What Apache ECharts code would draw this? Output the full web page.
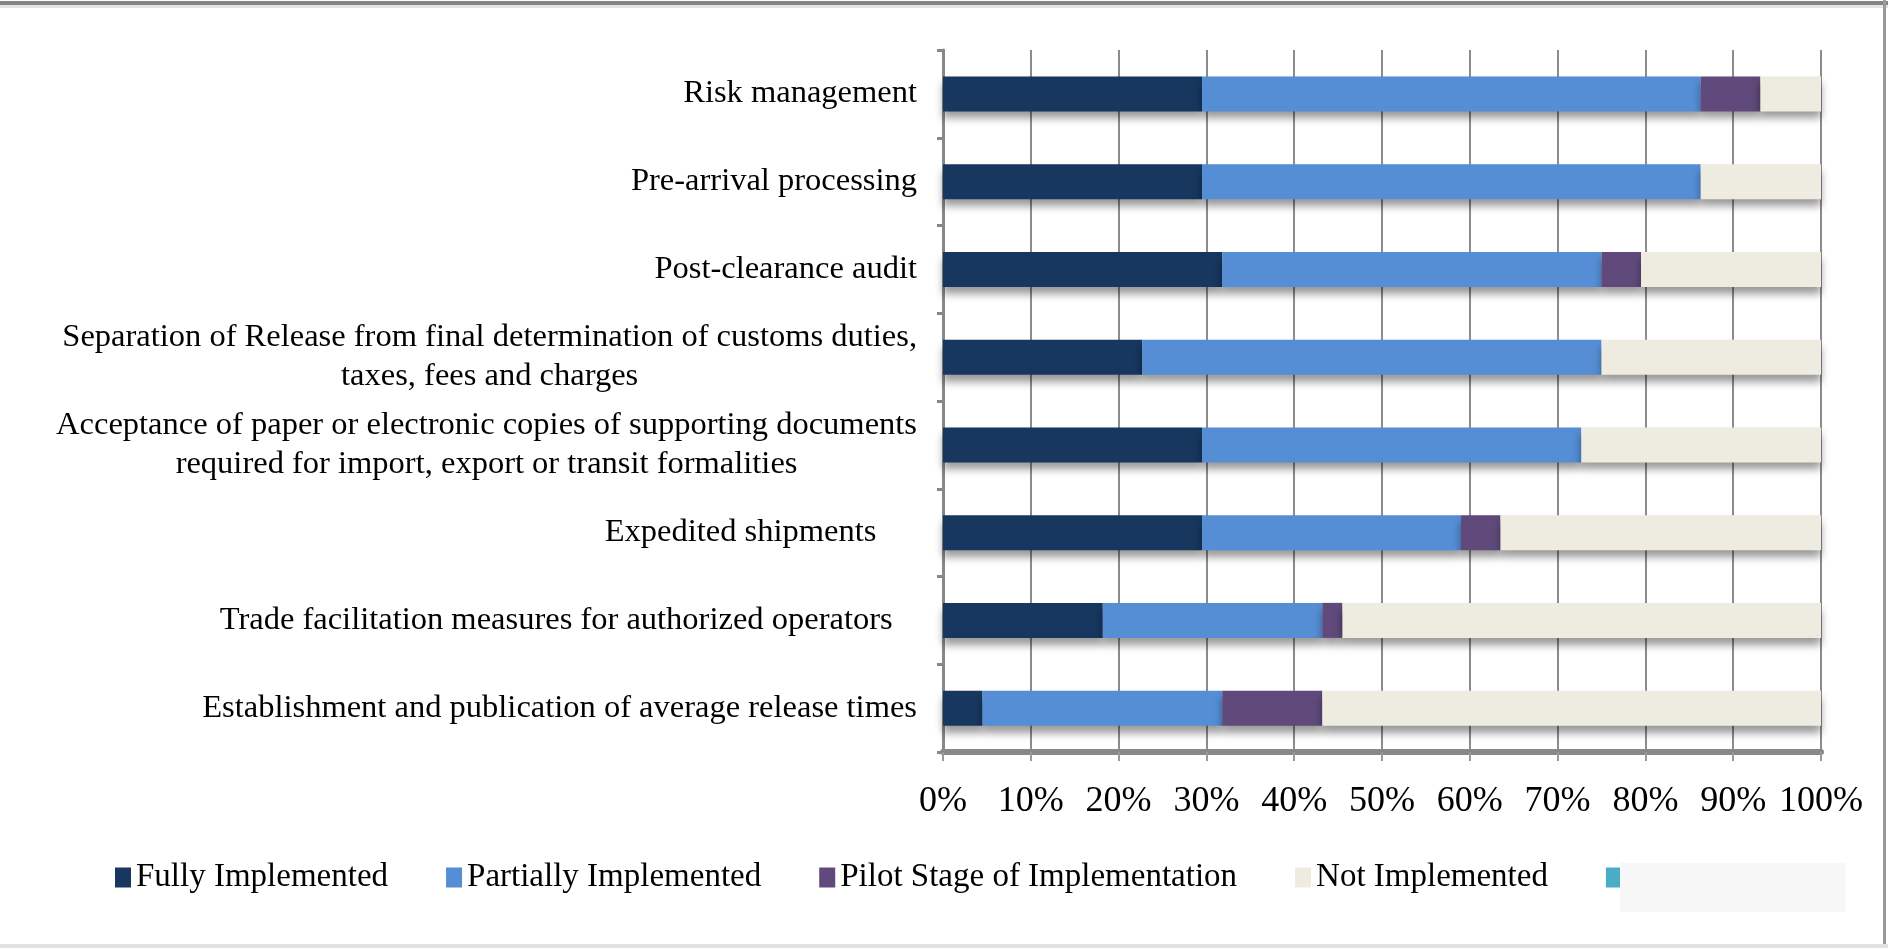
<!DOCTYPE html>
<html>
<head>
<meta charset="utf-8">
<script src="https://cdn.jsdelivr.net/npm/echarts@6/dist/echarts.min.js"></script>
<style>
  html, body { margin: 0; padding: 0; background: #fff; }
  #chart { width: 1888px; height: 948px; }
</style>
</head>
<body>
<div id="chart"></div>
<script>
// categories, top to bottom (trailing spaces are in the original labels)
var categories = [
  "Risk management",
  "Pre-arrival processing",
  "Post-clearance audit",
  "Separation of Release from final determination of customs duties,\ntaxes, fees and charges",
  "Acceptance of paper or electronic copies of supporting documents\nrequired for import, export or transit formalities",
  "Expedited shipments     ",
  "Trade facilitation measures for authorized operators   ",
  "Establishment and publication of average release times"
];
// percent of respondents
var fully     = [29.5, 29.5, 31.8, 22.7, 29.5, 29.5, 18.2,  4.5];
var partially = [56.8, 56.8, 43.2, 52.3, 43.2, 29.5, 25.0, 27.3];
var pilot     = [ 6.8,  0.0,  4.5,  0.0,  0.0,  4.5,  2.3, 11.4];
var notImpl   = [ 6.9, 13.7, 20.5, 25.0, 27.3, 36.5, 54.5, 56.8];
var dontKnow  = [ 0,    0,    0,    0,    0,    0,    0,    0  ];
var xTicks = [0, 10, 20, 30, 40, 50, 60, 70, 80, 90, 100];

var font = "Liberation Serif";
var myChart = echarts.init(document.getElementById("chart"));

function bar(name, data, color) {
  return {
    name: name,
    type: "bar",
    stack: "all",
    barWidth: 35,
    data: data,
    itemStyle: {
      color: color,
      shadowColor: "rgba(0,0,0,0.4)",
      shadowBlur: 8,
      shadowOffsetY: 7
    }
  };
}

var option = {
  animation: false,
  grid: { left: 943, right: 67, top: 50, bottom: 196 },
  legend: {
    left: 110,
    top: 856,
    itemWidth: 16,
    itemHeight: 20,
    itemGap: 58,
    icon: "rect",
    textStyle: { fontFamily: font, fontSize: 33, color: "#000" },
    data: ["Fully Implemented", "Partially Implemented", "Pilot Stage of Implementation", "Not Implemented", "Don't Know"]
  },
  xAxis: {
    type: "value",
    min: 0,
    max: 100,
    interval: 10,
    axisLine: { show: true, lineStyle: { color: "#888", width: 6 } },
    axisTick: { show: true, length: 9, lineStyle: { color: "#999", width: 2 } },
    splitLine: { show: true, lineStyle: { color: "#8c8c8c", width: 2 } },
    axisLabel: {
      margin: 32,
      fontFamily: font,
      fontSize: 36,
      color: "#000",
      customValues: xTicks,
      formatter: function (v) { return v + "%"; }
    }
  },
  yAxis: {
    type: "category",
    inverse: true,
    data: categories,
    axisLine: { show: true, lineStyle: { color: "#888", width: 3 } },
    axisTick: { show: true, length: 6, lineStyle: { color: "#888", width: 3 } },
    axisLabel: {
      margin: 26,
      color: "#000",
      formatter: function (v) {
        return v.split("\n").map(function (s) { return "{c|" + s + "}"; }).join("\n");
      },
      rich: {
        c: { fontFamily: font, fontSize: 32.5, color: "#000", align: "center", lineHeight: 39 }
      }
    }
  },
  series: [
    bar("Fully Implemented", fully, "#17375e"),
    bar("Partially Implemented", partially, "#558ed5"),
    bar("Pilot Stage of Implementation", pilot, "#604a7b"),
    bar("Not Implemented", notImpl, "#eeece1"),
    bar("Don't Know", dontKnow, "#4bacc6")
  ],
  graphic: [
    { type: "rect", z: 100, shape: { x: 1620, y: 863, width: 225, height: 49 }, style: { fill: "#f7f7f7" } },
    { type: "rect", z: 100, shape: { x: 0, y: 1, width: 1888, height: 4 }, style: { fill: "#858585" } },
    { type: "rect", z: 100, shape: { x: 0, y: 5, width: 1888, height: 3 }, style: { fill: "#e4e4e4" } },
    { type: "rect", z: 100, shape: { x: 1883, y: 0, width: 3, height: 948 }, style: { fill: "#9a9a9a" } },
    { type: "rect", z: 100, shape: { x: 0, y: 944, width: 1888, height: 4 }, style: { fill: "#e2e2e2" } }
  ]
};

myChart.setOption(option);
</script>
</body>
</html>
